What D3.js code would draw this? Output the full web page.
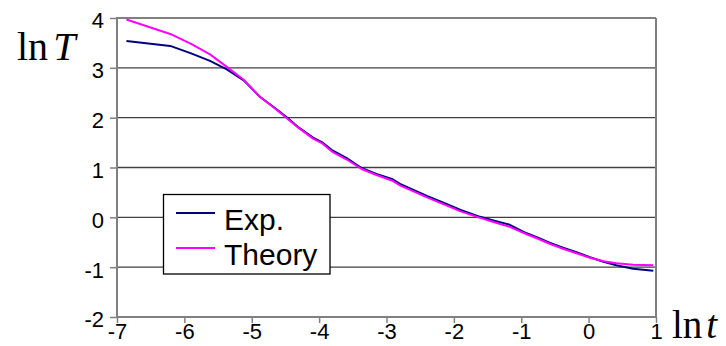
<!DOCTYPE html>
<html>
<head>
<meta charset="utf-8">
<script src="https://cdn.jsdelivr.net/npm/d3@7/dist/d3.min.js"></script>
<style>
  html, body { margin: 0; padding: 0; background: #fff; }
  svg { display: block; }
</style>
</head>
<body>
<svg id="chart" width="726" height="346"></svg>
<script>
// ---- data ----
const lnt = [-6.86, -6.21, -5.9, -5.62, -5.37, -5.12, -4.88, -4.66, -4.48, -4.3, -4.09, -3.96, -3.81, -3.59, -3.37, -3.15, -2.92, -2.8, -2.6, -2.4, -2.11, -1.9, -1.61, -1.4, -1.17, -0.92, -0.75, -0.58, -0.38, -0.18, 0.02, 0.22, 0.41, 0.66, 0.96];
const expValues = [3.54, 3.44, 3.29, 3.14, 2.97, 2.75, 2.42, 2.20, 2.01, 1.80, 1.60, 1.51, 1.35, 1.19, 0.99, 0.87, 0.77, 0.67, 0.55, 0.43, 0.27, 0.15, 0.01, -0.07, -0.15, -0.32, -0.41, -0.51, -0.61, -0.70, -0.80, -0.89, -0.96, -1.03, -1.07];
const theoryValues = [3.97, 3.68, 3.48, 3.27, 3.02, 2.76, 2.42, 2.19, 1.99, 1.79, 1.58, 1.49, 1.32, 1.16, 0.97, 0.85, 0.74, 0.64, 0.52, 0.40, 0.24, 0.12, -0.01, -0.10, -0.19, -0.34, -0.43, -0.53, -0.63, -0.72, -0.81, -0.88, -0.92, -0.95, -0.96];
const xTicks = [-7, -6, -5, -4, -3, -2, -1, 0, 1];
const yTicks = [-2, -1, 0, 1, 2, 3, 4];
const seriesNames = ["Exp.", "Theory"];
const seriesColors = ["#000080", "#ff00ff"];

// ---- chart ----
const svg = d3.select("#chart");
const x = d3.scaleLinear().domain([-7, 1]).range([117, 656]);
const y = d3.scaleLinear().domain([-2, 4]).range([317, 18]);
const axisGray = "#808080";
const tickFont = "Liberation Sans, Arial, sans-serif";

// gridlines
svg.append("g").selectAll("line")
  .data(yTicks.filter(v => v > -2 && v < 4))
  .join("line")
  .attr("x1", x(-7)).attr("x2", x(1))
  .attr("y1", d => y(d)).attr("y2", d => y(d))
  .attr("stroke", "#404040").attr("stroke-width", 1.3);

// border top and right
svg.append("line").attr("x1", x(-7)).attr("x2", x(1)).attr("y1", y(4)).attr("y2", y(4))
  .attr("stroke", axisGray).attr("stroke-width", 2);
svg.append("line").attr("x1", x(1)).attr("x2", x(1)).attr("y1", y(4)).attr("y2", y(-2))
  .attr("stroke", axisGray).attr("stroke-width", 2);

// y axis
const yAxis = svg.append("g").attr("transform", `translate(${x(-7)},0)`)
  .call(d3.axisLeft(y).tickValues(yTicks).tickSize(7).tickPadding(6).tickFormat(d3.format("d")));
yAxis.selectAll(".tick line").attr("stroke", axisGray).attr("stroke-width", 1.5);
yAxis.selectAll(".tick text")
  .attr("font-family", tickFont).attr("font-size", 22).attr("fill", "#000")
  .attr("dy", "0.45em").text(d => d < 0 ? "-" + Math.abs(d) : d);

// x axis
const xAxis = svg.append("g").attr("transform", `translate(0,${y(-2)})`)
  .call(d3.axisBottom(x).tickValues(xTicks).tickSize(6).tickPadding(1).tickFormat(d3.format("d")));
xAxis.selectAll(".tick line").attr("stroke", axisGray).attr("stroke-width", 1.5);
xAxis.selectAll(".tick text")
  .attr("font-family", tickFont).attr("font-size", 22).attr("fill", "#000")
  .attr("dy", "0.7em").text(d => d < 0 ? "-" + Math.abs(d) : d);
[yAxis, xAxis].forEach(a => a.select(".domain").remove());
// axis lines
svg.append("line").attr("x1", x(-7)).attr("x2", x(-7)).attr("y1", y(4) - 1).attr("y2", y(-2) + 1)
  .attr("stroke", axisGray).attr("stroke-width", 2);
svg.append("line").attr("x1", x(-7)).attr("x2", x(1) + 1).attr("y1", y(-2)).attr("y2", y(-2))
  .attr("stroke", axisGray).attr("stroke-width", 2);

// series lines
const line = d3.line().x(d => x(d[0])).y(d => y(d[1]));
[expValues, theoryValues].forEach((vals, i) => {
  svg.append("path")
    .datum(lnt.map((t, k) => [t, vals[k]]))
    .attr("d", line)
    .attr("fill", "none")
    .attr("stroke", seriesColors[i])
    .attr("stroke-width", 2)
    .attr("stroke-linejoin", "round");
});

// legend
const lg = svg.append("g");
lg.append("rect").attr("x", 163.5).attr("y", 194.5).attr("width", 166.5).attr("height", 79.5)
  .attr("fill", "#fff").attr("stroke", "#000").attr("stroke-width", 1.3);
seriesNames.forEach((name, i) => {
  const cy = 213 + i * 35;
  lg.append("line").attr("x1", 176).attr("x2", 215).attr("y1", cy).attr("y2", cy)
    .attr("stroke", seriesColors[i]).attr("stroke-width", 2);
  lg.append("text").attr("x", 224).attr("y", cy + 16.5)
    .attr("font-family", tickFont).attr("font-size", 30).attr("fill", "#000")
    .text(name);
});

// axis titles
const serif = "Liberation Serif, Times New Roman, serif";
const yt = svg.append("text").attr("x", 17).attr("y", 59.5)
  .attr("font-family", serif).attr("font-size", 40).attr("fill", "#000");
yt.append("tspan").text("ln");
yt.append("tspan").attr("dx", 5).attr("font-style", "italic").text("T");

const xt = svg.append("text").attr("x", 672).attr("y", 338)
  .attr("font-family", serif).attr("font-size", 39).attr("fill", "#000");
xt.append("tspan").text("ln");
xt.append("tspan").attr("dx", 4).attr("font-style", "italic").text("t");
</script>
</body>
</html>
